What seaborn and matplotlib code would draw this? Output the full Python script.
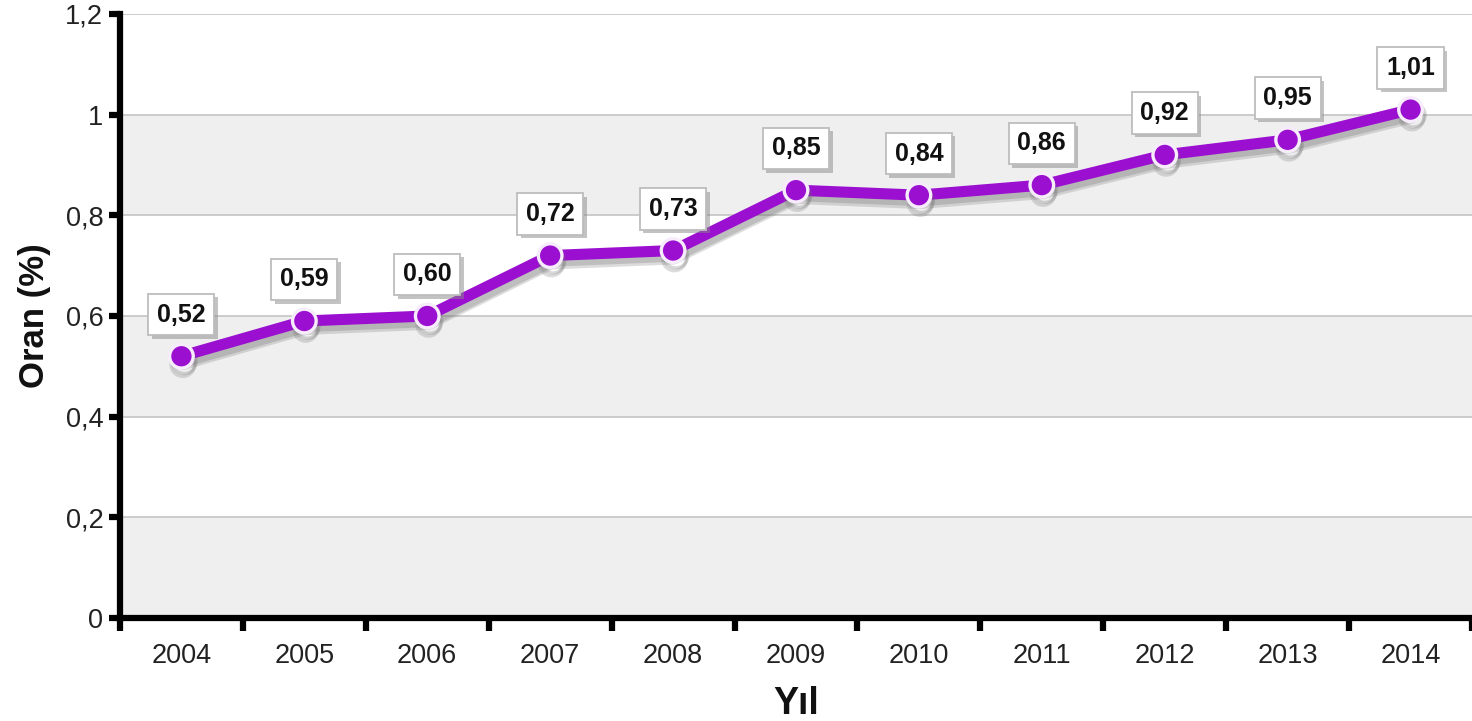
import matplotlib
matplotlib.use("Agg")
import matplotlib.pyplot as plt
import matplotlib.patheffects as pe
import seaborn as sns
import pandas as pd

years = ["2004", "2005", "2006", "2007", "2008", "2009", "2010", "2011", "2012", "2013", "2014"]
rates = [0.52, 0.59, 0.60, 0.72, 0.73, 0.85, 0.84, 0.86, 0.92, 0.95, 1.01]
rate_labels = ["0,52", "0,59", "0,60", "0,72", "0,73", "0,85", "0,84", "0,86", "0,92", "0,95", "1,01"]
y_ticks = [0, 0.2, 0.4, 0.6, 0.8, 1.0, 1.2]
y_tick_labels = ["0", "0,2", "0,4", "0,6", "0,8", "1", "1,2"]

sns.set_theme(style="white")
plt.rcParams["font.family"] = ["Liberation Sans", "DejaVu Sans"]

df = pd.DataFrame({"Yıl": years, "Oran": rates})
df["pos"] = range(len(years))

fig = plt.figure(figsize=(14.72, 7.21), dpi=100)
ax = fig.add_axes([0.0815, 0.1429, 0.9185, 0.8377])

# alternating horizontal bands
for lo in (0.0, 0.4, 0.8):
    ax.axhspan(lo, lo + 0.2, color="#efefef", zorder=0, lw=0)
for yv in y_ticks[1:]:
    ax.axhline(yv, color="#c4c4c4", lw=1.2, zorder=1)

purple = "#9a0fd0"
sns.lineplot(data=df, x="pos", y="Oran", ax=ax, color=purple, lw=8, zorder=3,
             marker="o", markersize=17, markeredgecolor="#f6ecfb", markeredgewidth=2.4,
             path_effects=[pe.SimpleLineShadow(offset=(1, -6), shadow_color="#777777", alpha=0.25),
                           pe.SimpleLineShadow(offset=(2, -4), shadow_color="#666666", alpha=0.25),
                           pe.Normal()])

for x, y, lab in zip(df["pos"], rates, rate_labels):
    t = ax.annotate(lab, (x, y), xytext=(0, 30), textcoords="offset points",
                    ha="center", va="center", fontsize=18, fontweight="bold", color="#111111",
                    zorder=5,
                    bbox=dict(boxstyle="square,pad=0.35", fc="white", ec="#bdbdbd", lw=1.3))
    t.get_bbox_patch().set_path_effects([
        pe.SimplePatchShadow(offset=(2.5, -2.5), shadow_rgbFace="#888888", alpha=0.5), pe.Normal()])

ax.set_xlim(-0.5, len(years) - 0.5)
ax.set_ylim(0, 1.2)
ax.set_xticks([i for i in range(len(years))])
ax.set_xticklabels(years, fontsize=19.5, color="#222222")
ax.set_xticks([i - 0.5 for i in range(len(years) + 1)], minor=True)
ax.tick_params(axis="x", which="major", length=0, pad=18)
ax.tick_params(axis="x", which="minor", length=9, width=4.5, color="black", direction="out", bottom=True)
ax.set_yticks(y_ticks)
ax.set_yticklabels(y_tick_labels, fontsize=19.5, color="#222222")
ax.tick_params(axis="y", which="major", length=8, width=4.5, color="black", direction="out", left=True, pad=4)

for side in ("top", "right"):
    ax.spines[side].set_visible(False)
for side in ("left", "bottom"):
    ax.spines[side].set_linewidth(4.5)
    ax.spines[side].set_color("black")
    ax.spines[side].set_zorder(6)

ax.set_xlabel("Yıl", fontsize=27, fontweight="bold", labelpad=12, color="#111111")
ax.set_ylabel("Oran (%)", fontsize=25, fontweight="bold", labelpad=10, color="#111111")

fig.savefig("out.png", dpi=100)
